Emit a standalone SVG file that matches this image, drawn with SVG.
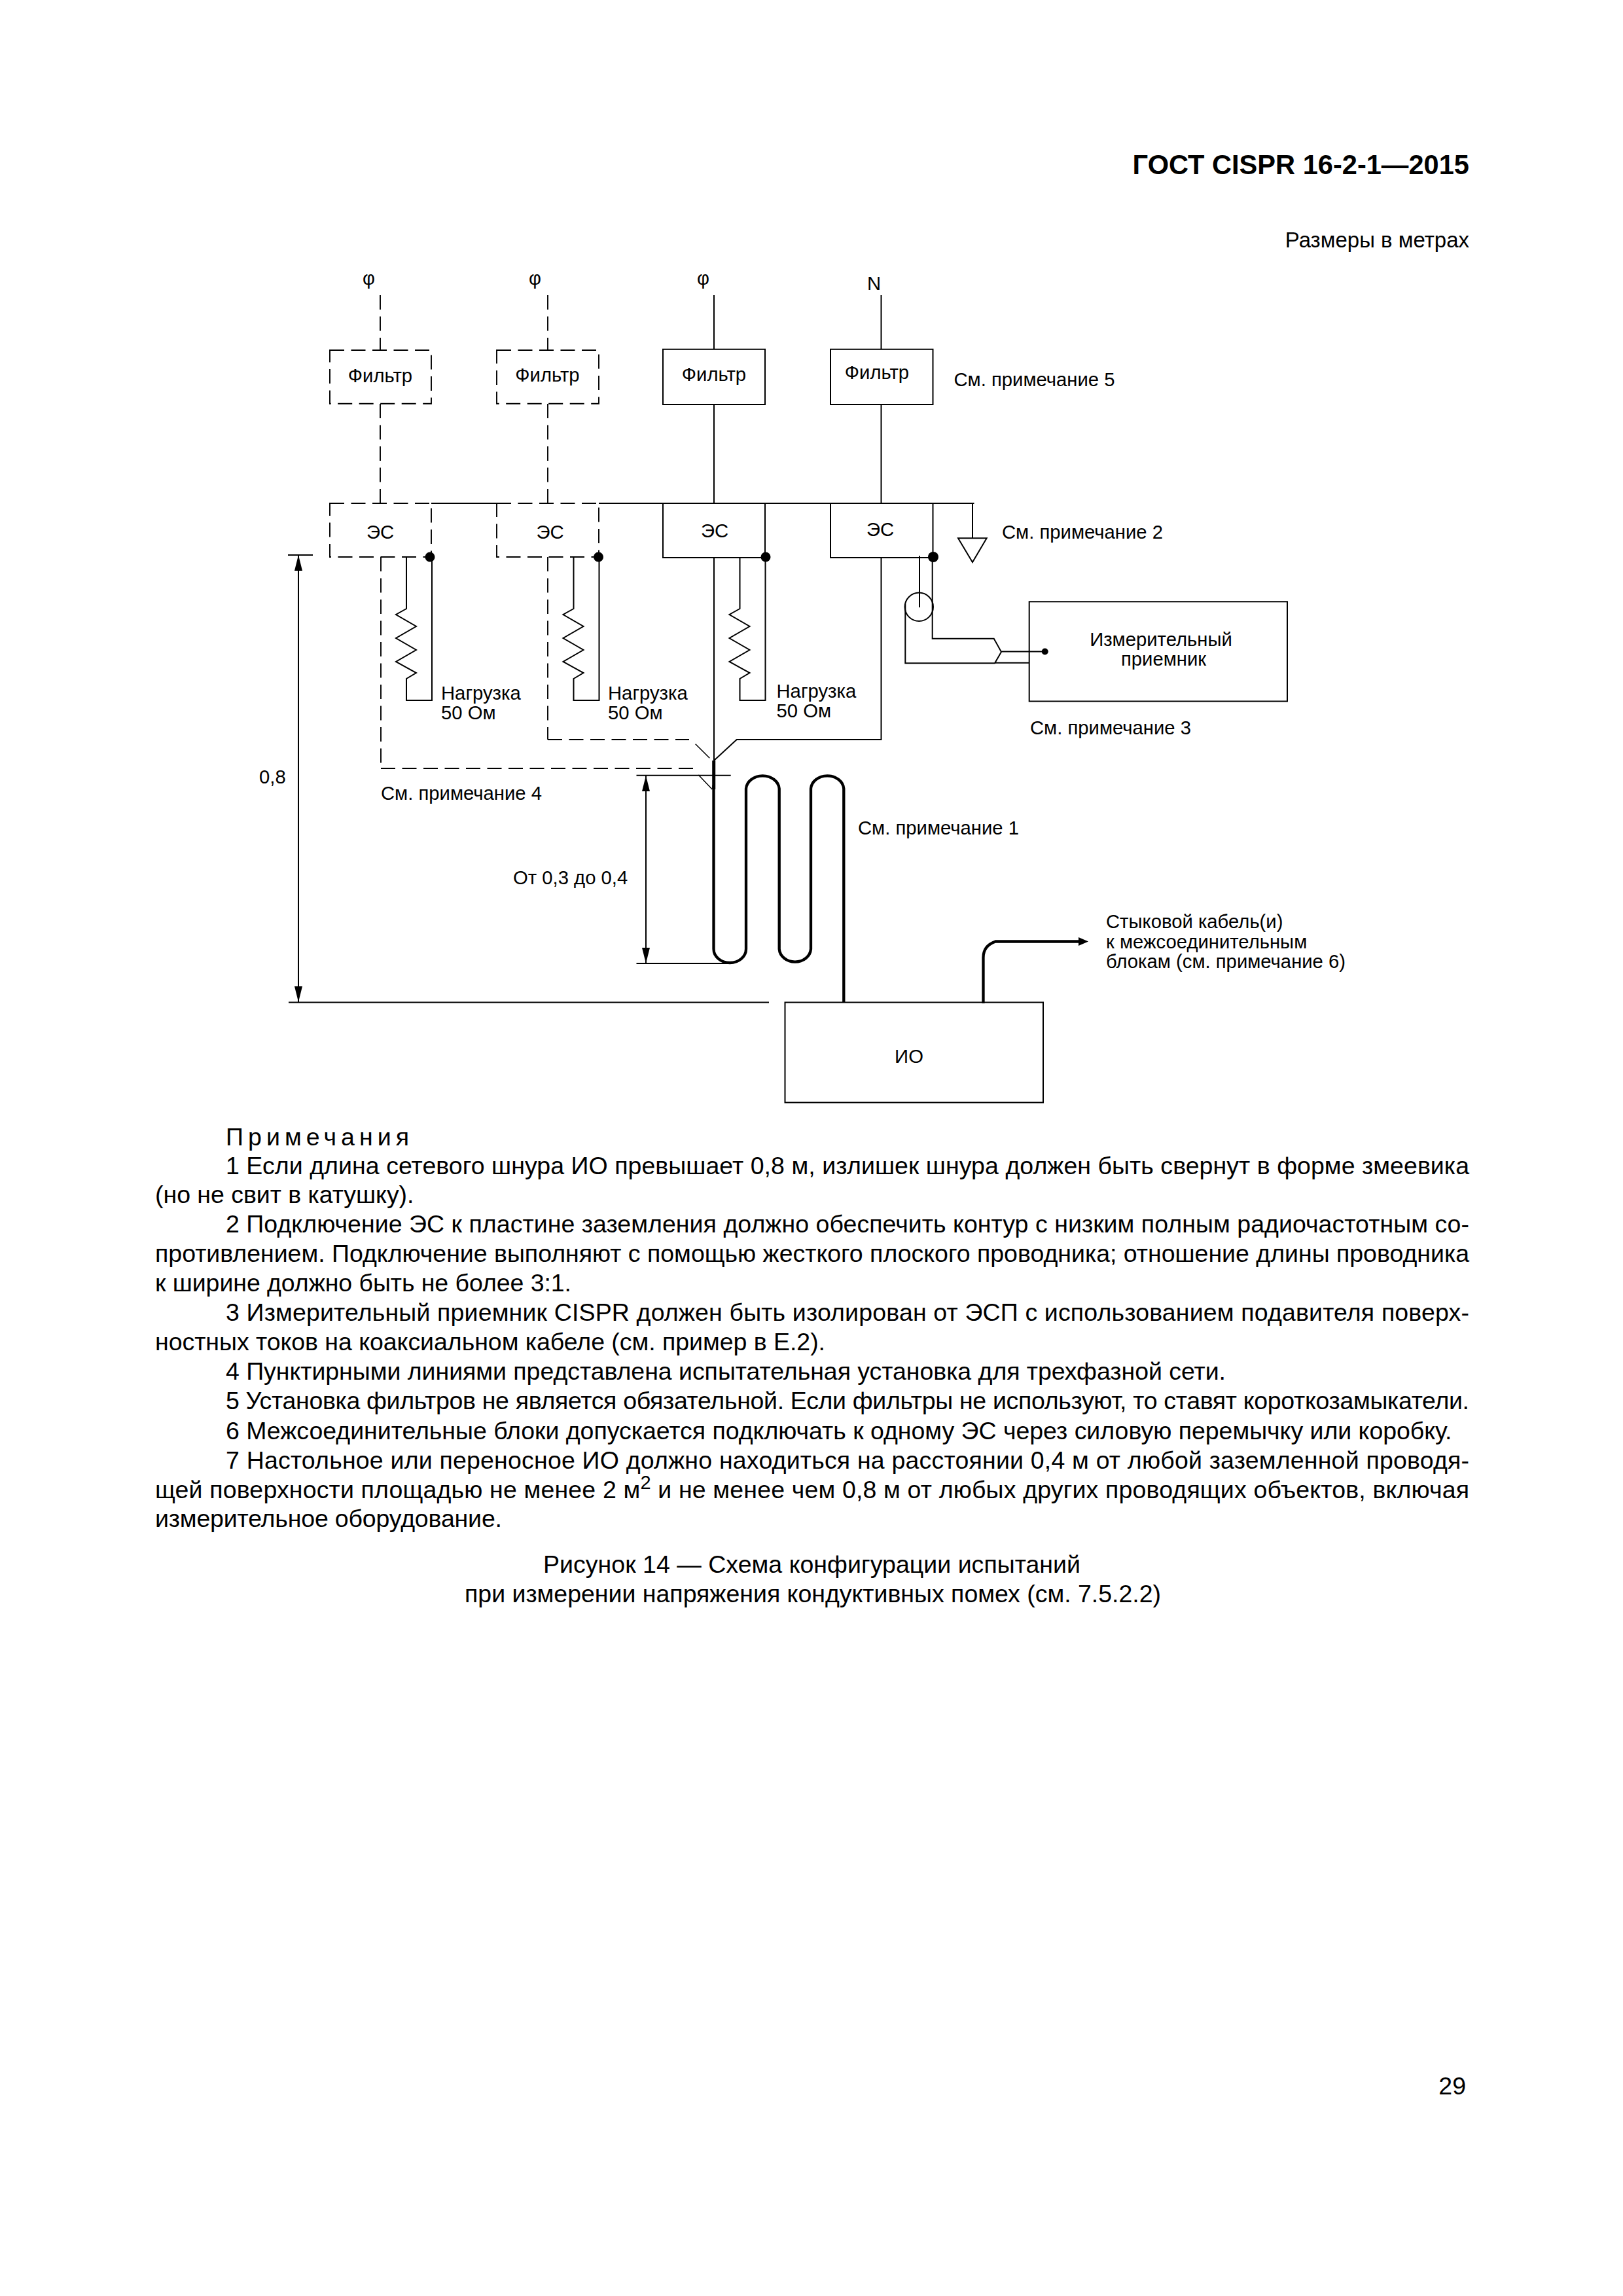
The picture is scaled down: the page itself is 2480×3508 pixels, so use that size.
<svg xmlns="http://www.w3.org/2000/svg" width="2480" height="3508" viewBox="0 0 2480 3508">
<style>
text{font-family:"Liberation Sans",Arial,sans-serif;fill:#000}
.l{font-size:29.25px}
.m{text-anchor:middle}
.n{font-size:37.5px}
.h{font-size:41.6px;font-weight:bold}
.b{fill:#fff;stroke:#000;stroke-width:2}
.d{fill:none;stroke:#000;stroke-width:1.9;stroke-dasharray:22 10.500}
.w{fill:none;stroke:#000;stroke-width:2}
.t{fill:none;stroke:#000;stroke-width:1.5}
.x{fill:none;stroke:#000;stroke-width:4.300}
</style>
<defs>
<marker id="arr" markerUnits="userSpaceOnUse" markerWidth="24" markerHeight="14" refX="24" refY="7" orient="auto-start-reverse"><path d="M0 1L24 7L0 13Z" fill="#000"/></marker>
<path id="zig" d="M0 0V79L-16 88L15 106L-16 124L15 142L-16 160L15 177L0 186V219H39V0" fill="none" stroke="#000" stroke-width="2"/>
</defs>
<rect width="2480" height="3508" fill="#fff"/>
<g id="connectors">
<path class="d" d="M581 451V535M581 617V769M837 451V535M837 617V769"/>
<path class="w" d="M1091 451V534M1091 618V769M1346.500 451V534M1346.500 618V769"/>
<path class="w" d="M659 769H759M915 769H1488.500"/>
<path class="w" d="M1486 769V822.300"/>
<path class="d" d="M582 851V1174M837 851V1130"/>
<path class="d" d="M582 1174H1059M837 1130H1053"/>
<path class="t" d="M1062.700 1136.700L1084.300 1158.300M1067.300 1184L1088.300 1206"/>
<path class="w" d="M1091 852V1162L1125.700 1130H1346.500V852"/>
<path class="x" style="stroke-width:5" d="M1090.700 1162V1206"/>
<path class="x" d="M1090.500 1200V1450A24.750 21 0 0 0 1140 1450V1205A25.400 21 0 0 1 1190.700 1205V1450A24.200 21 0 0 0 1239 1450V1205A25.200 21 0 0 1 1289.300 1205V1531"/>
<path class="x" d="M1502.500 1533V1463Q1502.500 1445 1521 1438.500H1650"/>
<path d="M1648 1432L1663 1438.500L1648 1445Z" fill="#000"/>
<path class="w" d="M1424.700 851V975.700H1518.700L1530 996L1520 1013.300H1383.300V923M1530 995.500H1597M1520 1012.700H1572.700"/>
<path class="w" d="M1405 849.300V928"/>
<ellipse cx="1596.700" cy="995.500" rx="5" ry="5" fill="#000"/>
<use href="#zig" x="621" y="851"/>
<use href="#zig" x="876.500" y="851"/>
<use href="#zig" x="1130.500" y="851"/>
<line class="w" x1="456" y1="848" x2="456" y2="1531" marker-start="url(#arr)" marker-end="url(#arr)"/>
<line class="w" x1="987" y1="1185" x2="987" y2="1472" marker-start="url(#arr)" marker-end="url(#arr)"/>
<path class="w" d="M440 848H478M972.500 1184.700H1116.700M972.500 1472H1113M441 1531.500H1175"/>
<path id="ground" class="w" d="M1464 822.300H1507.700L1486 859Z"/>
</g>
<g id="filter1"><rect x="504" y="535" width="155" height="81.700" class="d"/><text class="l m" x="581" y="584">Фильтр</text></g>
<g id="filter2"><rect x="759" y="535" width="156" height="81.700" class="d"/><text class="l m" x="836.500" y="583">Фильтр</text></g>
<g id="filter3"><rect x="1013" y="533.700" width="156" height="84.300" class="b"/><text class="l m" x="1091" y="581.500">Фильтр</text></g>
<g id="filter4"><rect x="1269" y="533.700" width="156.500" height="84.300" class="b"/><text class="l m" x="1340" y="579">Фильтр</text></g>
<g id="es1"><rect x="504" y="769" width="155" height="82" class="d"/><text class="l m" x="581" y="823">ЭС</text><ellipse cx="657" cy="851" rx="7.500" ry="7.500"/></g>
<g id="es2"><rect x="759" y="769" width="156" height="82" class="d"/><text class="l m" x="840.500" y="823">ЭС</text><ellipse cx="914.500" cy="851" rx="7.500" ry="7.500"/></g>
<g id="es3"><rect x="1013" y="769" width="156" height="83" class="w"/><text class="l m" x="1092" y="821">ЭС</text><ellipse cx="1170" cy="851" rx="7.500" ry="7.500"/></g>
<g id="es4"><rect x="1269" y="769" width="156.500" height="83" class="w"/><text class="l m" x="1345" y="819">ЭС</text><ellipse cx="1426" cy="851" rx="8" ry="8"/></g>
<g id="ferrite"><ellipse cx="1404.300" cy="927.300" rx="21.700" ry="21.700" class="w"/></g>
<g id="receiver"><rect x="1572.700" y="919.300" width="394.300" height="152.200" class="w"/><text class="l m" x="1774" y="987">Измерительный</text><text class="l m" x="1778" y="1016.500">приемник</text></g>
<g id="eut"><rect x="1199.500" y="1531.500" width="394.500" height="153" class="w"/><text class="l m" x="1389" y="1624">ИО</text></g>
<g id="labels">
<text class="l" x="554" y="435">φ</text><text class="l" x="808" y="435">φ</text><text class="l" x="1065" y="435">φ</text><text class="l" x="1325" y="443">N</text>
<text class="l" x="1457.500" y="590">См. примечание 5</text>
<text class="l" x="1531" y="823">См. примечание 2</text>
<text class="l" x="1574" y="1121.500">См. примечание 3</text>
<text class="l" x="582" y="1222">См. примечание 4</text>
<text class="l" x="1311" y="1275">См. примечание 1</text>
<text class="l" x="674" y="1068.500">Нагрузка</text><text class="l" x="674" y="1098.500">50 Ом</text>
<text class="l" x="929" y="1068.500">Нагрузка</text><text class="l" x="929" y="1098.500">50 Ом</text>
<text class="l" x="1186.500" y="1066">Нагрузка</text><text class="l" x="1186.500" y="1096">50 Ом</text>
<text class="l" x="396" y="1197">0,8</text>
<text class="l" x="784" y="1350.500">От 0,3 до 0,4</text>
<text class="l" x="1690" y="1418">Стыковой кабель(и)</text>
<text class="l" x="1690" y="1449">к межсоединительным</text>
<text class="l" x="1690" y="1478.500">блокам (см. примечание 6)</text>
</g>
<g id="page">
<text class="h" x="2245" y="266" text-anchor="end">ГОСТ CISPR 16-2-1—2015</text>
<text x="2245" y="378" text-anchor="end" style="font-size:33px">Размеры в метрах</text>
<text class="n" x="2240" y="3200" text-anchor="end">29</text>
</g>
<g id="notes" class="n">
<text class="n" x="345" y="1750" textLength="280" lengthAdjust="spacing">Примечания</text>
<text class="n" x="345" y="1794" textLength="1900">1 Если длина сетевого шнура ИО превышает 0,8 м, излишек шнура должен быть свернут в форме змеевика</text>
<text class="n" x="237" y="1838" textLength="395.500">(но не свит в катушку).</text>
<text class="n" x="345" y="1883" textLength="1900">2 Подключение ЭС к пластине заземления должно обеспечить контур с низким полным радиочастотным со-</text>
<text class="n" x="237" y="1928" textLength="2008">противлением. Подключение выполняют с помощью жесткого плоского проводника; отношение длины проводника</text>
<text class="n" x="237" y="1973" textLength="636">к ширине должно быть не более 3:1.</text>
<text class="n" x="345" y="2018" textLength="1900">3 Измерительный приемник CISPR должен быть изолирован от ЭСП с использованием подавителя поверх-</text>
<text class="n" x="237" y="2063" textLength="1024">ностных токов на коаксиальном кабеле (см. пример в Е.2).</text>
<text class="n" x="345" y="2108" textLength="1528">4 Пунктирными линиями представлена испытательная установка для трехфазной сети.</text>
<text class="n" x="345" y="2153" textLength="1900">5 Установка фильтров не является обязательной. Если фильтры не используют, то ставят короткозамыкатели.</text>
<text class="n" x="345" y="2199" textLength="1873.500">6 Межсоединительные блоки допускается подключать к одному ЭС через силовую перемычку или коробку.</text>
<text class="n" x="345" y="2244" textLength="1900">7 Настольное или переносное ИО должно находиться на расстоянии 0,4 м от любой заземленной проводя-</text>
<text class="n" x="237" y="2289" textLength="2008">щей поверхности площадью не менее 2 м<tspan dy="-14" style="font-size:29px">2</tspan><tspan dy="14"> и не менее чем 0,8 м от любых других проводящих объектов, включая</tspan></text>
<text class="n" x="237" y="2333" textLength="530">измерительное оборудование.</text>
<text class="n" x="830" y="2403" textLength="821">Рисунок 14 — Схема конфигурации испытаний</text>
<text class="n" x="710" y="2448" textLength="1064">при измерении напряжения кондуктивных помех (см. 7.5.2.2)</text>
</g>
</svg>
